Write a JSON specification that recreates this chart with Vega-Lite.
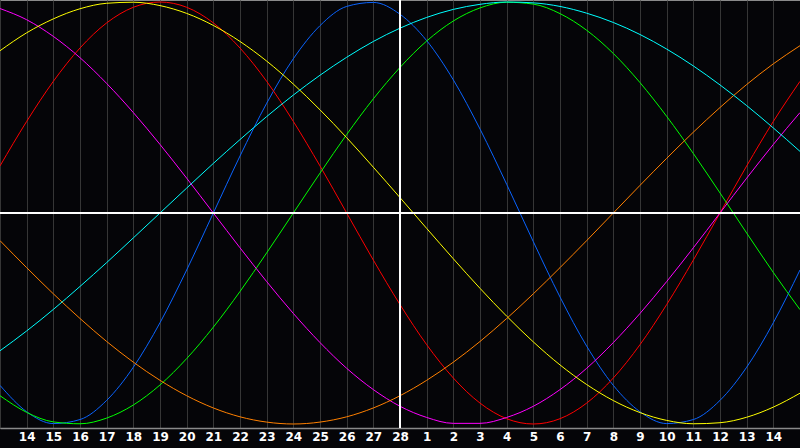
{
  "$schema": "https://vega.github.io/schema/vega-lite/v6.json",
  "width": 800,
  "height": 428,
  "autosize": {"type": "none"},
  "padding": {"left": 0, "top": 0, "right": 0, "bottom": 20},
  "background": "#050508",
  "config": {
    "view": {"stroke": "#8a8a8a", "strokeWidth": 1, "fill": "#050508"},
    "axisX": {
      "grid": true, "gridColor": "#363636", "gridWidth": 1,
      "ticks": false, "title": null,
      "domainColor": "#8a8a8a", "domainWidth": 1.5,
      "labelColor": "#ffffff", "labelFont": "DejaVu Sans", "labelFontWeight": "bold", "labelFontSize": 12,
      "labelPadding": 3, "labelFlush": false, "labelOverlap": false
    }
  },
  "data": {
    "values": [
      {"day":0,"cycle":"physical","v":-0.817},{"day":1,"cycle":"physical","v":-0.942},{"day":2,"cycle":"physical","v":-0.998},{"day":3,"cycle":"physical","v":-0.979},{"day":4,"cycle":"physical","v":-0.888},{"day":5,"cycle":"physical","v":-0.731},{"day":6,"cycle":"physical","v":-0.520},{"day":7,"cycle":"physical","v":-0.270},{"day":8,"cycle":"physical","v":0},{"day":9,"cycle":"physical","v":0.270},{"day":10,"cycle":"physical","v":0.520},{"day":11,"cycle":"physical","v":0.731},{"day":12,"cycle":"physical","v":0.888},{"day":13,"cycle":"physical","v":0.979},{"day":14,"cycle":"physical","v":0.998},{"day":15,"cycle":"physical","v":0.942},{"day":16,"cycle":"physical","v":0.817},{"day":17,"cycle":"physical","v":0.631},{"day":18,"cycle":"physical","v":0.398},{"day":19,"cycle":"physical","v":0.136},{"day":20,"cycle":"physical","v":-0.136},{"day":21,"cycle":"physical","v":-0.398},{"day":22,"cycle":"physical","v":-0.631},{"day":23,"cycle":"physical","v":-0.817},{"day":24,"cycle":"physical","v":-0.942},{"day":25,"cycle":"physical","v":-0.998},{"day":26,"cycle":"physical","v":-0.979},{"day":27,"cycle":"physical","v":-0.888},{"day":28,"cycle":"physical","v":-0.731},{"day":29,"cycle":"physical","v":-0.520},{"day":30,"cycle":"physical","v":-0.270},
      {"day":0,"cycle":"emotional","v":0.223},{"day":1,"cycle":"emotional","v":0.434},{"day":2,"cycle":"emotional","v":0.624},{"day":3,"cycle":"emotional","v":0.782},{"day":4,"cycle":"emotional","v":0.901},{"day":5,"cycle":"emotional","v":0.975},{"day":6,"cycle":"emotional","v":1},{"day":7,"cycle":"emotional","v":0.975},{"day":8,"cycle":"emotional","v":0.901},{"day":9,"cycle":"emotional","v":0.782},{"day":10,"cycle":"emotional","v":0.624},{"day":11,"cycle":"emotional","v":0.434},{"day":12,"cycle":"emotional","v":0.223},{"day":13,"cycle":"emotional","v":0},{"day":14,"cycle":"emotional","v":-0.223},{"day":15,"cycle":"emotional","v":-0.434},{"day":16,"cycle":"emotional","v":-0.624},{"day":17,"cycle":"emotional","v":-0.782},{"day":18,"cycle":"emotional","v":-0.901},{"day":19,"cycle":"emotional","v":-0.975},{"day":20,"cycle":"emotional","v":-1},{"day":21,"cycle":"emotional","v":-0.975},{"day":22,"cycle":"emotional","v":-0.901},{"day":23,"cycle":"emotional","v":-0.782},{"day":24,"cycle":"emotional","v":-0.624},{"day":25,"cycle":"emotional","v":-0.434},{"day":26,"cycle":"emotional","v":-0.223},{"day":27,"cycle":"emotional","v":0},{"day":28,"cycle":"emotional","v":0.223},{"day":29,"cycle":"emotional","v":0.434},{"day":30,"cycle":"emotional","v":0.624},
      {"day":0,"cycle":"intellectual","v":-0.866},{"day":1,"cycle":"intellectual","v":-0.945},{"day":2,"cycle":"intellectual","v":-0.990},{"day":3,"cycle":"intellectual","v":-0.999},{"day":4,"cycle":"intellectual","v":-0.972},{"day":5,"cycle":"intellectual","v":-0.910},{"day":6,"cycle":"intellectual","v":-0.815},{"day":7,"cycle":"intellectual","v":-0.690},{"day":8,"cycle":"intellectual","v":-0.541},{"day":9,"cycle":"intellectual","v":-0.372},{"day":10,"cycle":"intellectual","v":-0.189},{"day":11,"cycle":"intellectual","v":0},{"day":12,"cycle":"intellectual","v":0.189},{"day":13,"cycle":"intellectual","v":0.372},{"day":14,"cycle":"intellectual","v":0.541},{"day":15,"cycle":"intellectual","v":0.690},{"day":16,"cycle":"intellectual","v":0.815},{"day":17,"cycle":"intellectual","v":0.910},{"day":18,"cycle":"intellectual","v":0.972},{"day":19,"cycle":"intellectual","v":0.999},{"day":20,"cycle":"intellectual","v":0.990},{"day":21,"cycle":"intellectual","v":0.945},{"day":22,"cycle":"intellectual","v":0.866},{"day":23,"cycle":"intellectual","v":0.756},{"day":24,"cycle":"intellectual","v":0.618},{"day":25,"cycle":"intellectual","v":0.458},{"day":26,"cycle":"intellectual","v":0.282},{"day":27,"cycle":"intellectual","v":0.095},{"day":28,"cycle":"intellectual","v":-0.095},{"day":29,"cycle":"intellectual","v":-0.282},{"day":30,"cycle":"intellectual","v":-0.458},
      {"day":0,"cycle":"intuitive","v":0.969},{"day":1,"cycle":"intuitive","v":0.916},{"day":2,"cycle":"intuitive","v":0.837},{"day":3,"cycle":"intuitive","v":0.736},{"day":4,"cycle":"intuitive","v":0.614},{"day":5,"cycle":"intuitive","v":0.476},{"day":6,"cycle":"intuitive","v":0.325},{"day":7,"cycle":"intuitive","v":0.165},{"day":8,"cycle":"intuitive","v":0},{"day":9,"cycle":"intuitive","v":-0.165},{"day":10,"cycle":"intuitive","v":-0.325},{"day":11,"cycle":"intuitive","v":-0.476},{"day":12,"cycle":"intuitive","v":-0.614},{"day":13,"cycle":"intuitive","v":-0.736},{"day":14,"cycle":"intuitive","v":-0.837},{"day":15,"cycle":"intuitive","v":-0.916},{"day":16,"cycle":"intuitive","v":-0.969},{"day":17,"cycle":"intuitive","v":-0.997},{"day":18,"cycle":"intuitive","v":-0.997},{"day":19,"cycle":"intuitive","v":-0.969},{"day":20,"cycle":"intuitive","v":-0.916},{"day":21,"cycle":"intuitive","v":-0.837},{"day":22,"cycle":"intuitive","v":-0.736},{"day":23,"cycle":"intuitive","v":-0.614},{"day":24,"cycle":"intuitive","v":-0.476},{"day":25,"cycle":"intuitive","v":-0.325},{"day":26,"cycle":"intuitive","v":-0.165},{"day":27,"cycle":"intuitive","v":0},{"day":28,"cycle":"intuitive","v":0.165},{"day":29,"cycle":"intuitive","v":0.325},{"day":30,"cycle":"intuitive","v":0.476},
      {"day":0,"cycle":"aesthetic","v":0.769},{"day":1,"cycle":"aesthetic","v":0.854},{"day":2,"cycle":"aesthetic","v":0.920},{"day":3,"cycle":"aesthetic","v":0.968},{"day":4,"cycle":"aesthetic","v":0.994},{"day":5,"cycle":"aesthetic","v":0.999},{"day":6,"cycle":"aesthetic","v":0.983},{"day":7,"cycle":"aesthetic","v":0.946},{"day":8,"cycle":"aesthetic","v":0.889},{"day":9,"cycle":"aesthetic","v":0.813},{"day":10,"cycle":"aesthetic","v":0.720},{"day":11,"cycle":"aesthetic","v":0.611},{"day":12,"cycle":"aesthetic","v":0.489},{"day":13,"cycle":"aesthetic","v":0.357},{"day":14,"cycle":"aesthetic","v":0.217},{"day":15,"cycle":"aesthetic","v":0.073},{"day":16,"cycle":"aesthetic","v":-0.073},{"day":17,"cycle":"aesthetic","v":-0.217},{"day":18,"cycle":"aesthetic","v":-0.357},{"day":19,"cycle":"aesthetic","v":-0.489},{"day":20,"cycle":"aesthetic","v":-0.611},{"day":21,"cycle":"aesthetic","v":-0.720},{"day":22,"cycle":"aesthetic","v":-0.813},{"day":23,"cycle":"aesthetic","v":-0.889},{"day":24,"cycle":"aesthetic","v":-0.946},{"day":25,"cycle":"aesthetic","v":-0.983},{"day":26,"cycle":"aesthetic","v":-0.999},{"day":27,"cycle":"aesthetic","v":-0.994},{"day":28,"cycle":"aesthetic","v":-0.968},{"day":29,"cycle":"aesthetic","v":-0.920},{"day":30,"cycle":"aesthetic","v":-0.854},
      {"day":0,"cycle":"awareness","v":-0.131},{"day":1,"cycle":"awareness","v":-0.259},{"day":2,"cycle":"awareness","v":-0.383},{"day":3,"cycle":"awareness","v":-0.500},{"day":4,"cycle":"awareness","v":-0.609},{"day":5,"cycle":"awareness","v":-0.707},{"day":6,"cycle":"awareness","v":-0.793},{"day":7,"cycle":"awareness","v":-0.866},{"day":8,"cycle":"awareness","v":-0.924},{"day":9,"cycle":"awareness","v":-0.966},{"day":10,"cycle":"awareness","v":-0.991},{"day":11,"cycle":"awareness","v":-1},{"day":12,"cycle":"awareness","v":-0.991},{"day":13,"cycle":"awareness","v":-0.966},{"day":14,"cycle":"awareness","v":-0.924},{"day":15,"cycle":"awareness","v":-0.866},{"day":16,"cycle":"awareness","v":-0.793},{"day":17,"cycle":"awareness","v":-0.707},{"day":18,"cycle":"awareness","v":-0.609},{"day":19,"cycle":"awareness","v":-0.500},{"day":20,"cycle":"awareness","v":-0.383},{"day":21,"cycle":"awareness","v":-0.259},{"day":22,"cycle":"awareness","v":-0.131},{"day":23,"cycle":"awareness","v":0},{"day":24,"cycle":"awareness","v":0.131},{"day":25,"cycle":"awareness","v":0.259},{"day":26,"cycle":"awareness","v":0.383},{"day":27,"cycle":"awareness","v":0.500},{"day":28,"cycle":"awareness","v":0.609},{"day":29,"cycle":"awareness","v":0.707},{"day":30,"cycle":"awareness","v":0.793},
      {"day":0,"cycle":"spiritual","v":-0.653},{"day":1,"cycle":"spiritual","v":-0.559},{"day":2,"cycle":"spiritual","v":-0.457},{"day":3,"cycle":"spiritual","v":-0.348},{"day":4,"cycle":"spiritual","v":-0.235},{"day":5,"cycle":"spiritual","v":-0.118},{"day":6,"cycle":"spiritual","v":0},{"day":7,"cycle":"spiritual","v":0.118},{"day":8,"cycle":"spiritual","v":0.235},{"day":9,"cycle":"spiritual","v":0.348},{"day":10,"cycle":"spiritual","v":0.457},{"day":11,"cycle":"spiritual","v":0.559},{"day":12,"cycle":"spiritual","v":0.653},{"day":13,"cycle":"spiritual","v":0.738},{"day":14,"cycle":"spiritual","v":0.813},{"day":15,"cycle":"spiritual","v":0.876},{"day":16,"cycle":"spiritual","v":0.927},{"day":17,"cycle":"spiritual","v":0.965},{"day":18,"cycle":"spiritual","v":0.989},{"day":19,"cycle":"spiritual","v":1.000},{"day":20,"cycle":"spiritual","v":0.996},{"day":21,"cycle":"spiritual","v":0.979},{"day":22,"cycle":"spiritual","v":0.947},{"day":23,"cycle":"spiritual","v":0.903},{"day":24,"cycle":"spiritual","v":0.846},{"day":25,"cycle":"spiritual","v":0.777},{"day":26,"cycle":"spiritual","v":0.697},{"day":27,"cycle":"spiritual","v":0.607},{"day":28,"cycle":"spiritual","v":0.509},{"day":29,"cycle":"spiritual","v":0.403},{"day":30,"cycle":"spiritual","v":0.292}
    ]
  },
  "layer": [
    {
      "mark": {"type": "line", "strokeWidth": 1, "interpolate": "monotone"},
      "encoding": {
        "x": {
          "field": "day", "type": "quantitative",
          "scale": {"domain": [0, 30], "nice": false, "zero": false},
          "axis": {
            "values": [0,1,2,3,4,5,6,7,8,9,10,11,12,13,14,15,16,17,18,19,20,21,22,23,24,25,26,27,28,29,30],
            "labelExpr": "datum.value < 1 || datum.value > 29 ? '' : (datum.value <= 15 ? datum.value + 13 : datum.value - 15)"
          }
        },
        "y": {
          "field": "v", "type": "quantitative",
          "scale": {"domain": [-1.019, 1.0095], "nice": false, "zero": false},
          "axis": null
        },
        "color": {
          "field": "cycle", "type": "nominal",
          "scale": {
            "domain": ["physical", "emotional", "intellectual", "intuitive", "aesthetic", "awareness", "spiritual"],
            "range": ["#0a64ff", "#ff0000", "#00ff00", "#ff00ff", "#ffff00", "#ff8000", "#00ffff"]
          },
          "legend": null
        }
      }
    },
    {
      "mark": {"type": "rule", "color": "#ffffff", "strokeWidth": 1},
      "encoding": {"y": {"datum": 0, "axis": null}}
    },
    {
      "mark": {"type": "rule", "color": "#ffffff", "strokeWidth": 1},
      "encoding": {
        "x": {
          "datum": 15,
          "axis": {
            "values": [0,1,2,3,4,5,6,7,8,9,10,11,12,13,14,15,16,17,18,19,20,21,22,23,24,25,26,27,28,29,30],
            "labelExpr": "datum.value < 1 || datum.value > 29 ? '' : (datum.value <= 15 ? datum.value + 13 : datum.value - 15)"
          }
        }
      }
    }
  ]
}
